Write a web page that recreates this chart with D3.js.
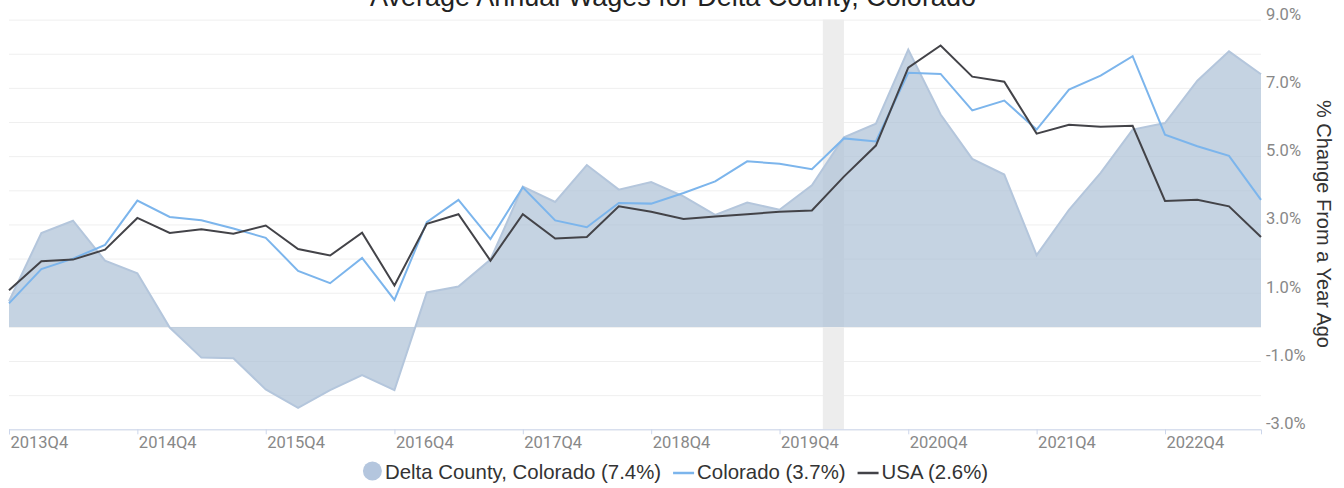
<!DOCTYPE html>
<html>
<head>
<meta charset="utf-8">
<script src="https://cdn.jsdelivr.net/npm/d3@7"></script>
<style>
body{margin:0;background:#fff;}
svg{display:block;font-family:"Liberation Sans", Arial, sans-serif;}
</style>
</head>
<body>
<div id="chart"></div>
<script>
// chart data

var quarters = ["2013Q4","2014Q1","2014Q2","2014Q3","2014Q4","2015Q1","2015Q2","2015Q3","2015Q4","2016Q1",
                "2016Q2","2016Q3","2016Q4","2017Q1","2017Q2","2017Q3","2017Q4","2018Q1","2018Q2","2018Q3",
                "2018Q4","2019Q1","2019Q2","2019Q3","2019Q4","2020Q1","2020Q2","2020Q3","2020Q4","2021Q1",
                "2021Q2","2021Q3","2021Q4","2022Q1","2022Q2","2022Q3","2022Q4","2023Q1","2023Q2","2023Q3"];

var deltaCounty = [0.75, 2.75, 3.11, 1.94, 1.57, -0.02, -0.90, -0.92, -1.83, -2.37,
                   -1.85, -1.41, -1.85, 1.01, 1.18, 1.97, 4.11, 3.66, 4.74, 4.02,
                   4.24, 3.82, 3.28, 3.64, 3.43, 4.15, 5.55, 5.95, 8.12, 6.22,
                   4.92, 4.46, 2.10, 3.43, 4.51, 5.78, 5.97, 7.21, 8.07, 7.40];

var colorado = [0.69, 1.69, 2.00, 2.40, 3.70, 3.22, 3.12, 2.88, 2.61, 1.64,
                1.28, 2.02, 0.79, 3.07, 3.72, 2.57, 4.09, 3.12, 2.92, 3.63,
                3.61, 3.92, 4.26, 4.85, 4.78, 4.62, 5.52, 5.43, 7.44, 7.41,
                6.34, 6.63, 5.78, 6.95, 7.36, 7.93, 5.63, 5.29, 5.01, 3.72];

var usa = [1.07, 1.92, 1.97, 2.26, 3.19, 2.75, 2.86, 2.73, 2.97, 2.28,
           2.09, 2.76, 1.21, 3.02, 3.30, 1.94, 3.30, 2.59, 2.63, 3.53,
           3.37, 3.16, 3.23, 3.30, 3.37, 3.41, 4.40, 5.31, 7.59, 8.24,
           7.33, 7.18, 5.66, 5.92, 5.86, 5.89, 3.69, 3.72, 3.53, 2.63];

var xTickLabels = ["2013Q4","2014Q4","2015Q4","2016Q4","2017Q4","2018Q4","2019Q4","2020Q4","2021Q4","2022Q4"];
var yGridValues = [-3,-2,-1,0,1,2,3,4,5,6,7,8,9];
var yTickValues = [-3,-1,1,3,5,7,9];
var recessions = [["2020-02-01","2020-04-01"]];
var legendLabels = ["Delta County, Colorado (7.4%)","Colorado (3.7%)","USA (2.6%)"];
var chartTitle = "Average Annual Wages for Delta County, Colorado";
var yTitle = "% Change From a Year Ago";

function parseQuarter(q){
    var yr= +q.slice(0,4), n= +q.slice(5);
    return new Date(yr,(n-1)*3,1);
}

var width=1344, height=488;
var plotLeft=9, plotRight=1261, plotTop=19.6, plotBottom=429.3;

var svg= d3.select("#chart").append("svg")
            .attr("width",width)
            .attr("height",height);

var dates= quarters.map(parseQuarter);

var x= d3.scaleTime().domain([dates[0],dates[dates.length-1]]).range([plotLeft,plotRight]);
var y= d3.scaleLinear().domain([-3,9]).range([plotBottom,plotTop]);

// gridlines
var grid= svg.append("g")
    .attr("transform","translate("+plotRight+",0)")
    .call(d3.axisLeft(y).tickValues(yGridValues).tickSize(plotRight-plotLeft).tickFormat(""));
grid.select(".domain").remove();
grid.selectAll("line").attr("stroke","#efefef");

// recession shading
svg.selectAll(".rec").data(recessions).enter().append("rect")
    .attr("x",function(d){return x(new Date(d[0]+"T00:00"));})
    .attr("width",function(d){return x(new Date(d[1]+"T00:00"))-x(new Date(d[0]+"T00:00"));})
    .attr("y",plotTop)
    .attr("height",plotBottom-plotTop)
    .attr("fill","#ededed");

// delta county area
var area= d3.area()
    .x(function(d,i){return x(dates[i]);})
    .y0(y(0))
    .y1(function(d){return y(d);});
svg.append("path")
    .datum(deltaCounty)
    .attr("d",area)
    .attr("fill","#acc0d6")
    .attr("fill-opacity",0.7);

var line= d3.line()
    .x(function(d,i){return x(dates[i]);})
    .y(function(d){return y(d);});

svg.append("path").datum(deltaCounty).attr("d",line)
    .attr("fill","none").attr("stroke","#b4c6dc").attr("stroke-width",2);

svg.append("path").datum(colorado).attr("d",line)
    .attr("fill","none").attr("stroke","#7cb5ec").attr("stroke-width",2);

svg.append("path").datum(usa).attr("d",line)
    .attr("fill","none").attr("stroke","#434348").attr("stroke-width",2);

// x axis
var xAxis= svg.append("g")
    .attr("transform","translate(0,"+plotBottom+")")
    .call(d3.axisBottom(x).tickValues(xTickLabels.map(parseQuarter))
        .tickSize(5).tickFormat(function(d,i){return xTickLabels[i];}));
xAxis.select(".domain").attr("stroke","#ccd6eb");
xAxis.selectAll("line").attr("stroke","#ccd6eb");
xAxis.selectAll("text")
    .attr("text-anchor","start")
    .attr("x",1)
    .attr("y",19)
    .attr("dy",0)
    .attr("fill","#888")
    .style("font-size","16.5px")
    .style("font-family","Roboto");

// right y axis
var yAxis= svg.append("g")
    .attr("transform","translate("+plotRight+",0)")
    .call(d3.axisRight(y).tickValues(yTickValues).tickSize(0)
        .tickFormat(function(d){return d.toFixed(1)+"%";}));
yAxis.select(".domain").remove();
yAxis.selectAll("text")
    .attr("x",5)
    .attr("dy",-0.5)
    .attr("fill","#888")
    .style("font-size","16.5px")
    .style("font-family","Roboto");

svg.append("text")
    .attr("transform","translate(1317,224) rotate(90)")
    .attr("text-anchor","middle")
    .attr("fill","#333")
    .style("font-size","20px")
    .text(yTitle);

// title
svg.append("text")
    .attr("x",673)
    .attr("y",6)
    .attr("text-anchor","middle")
    .attr("fill","#222")
    .style("font-size","27px")
    .text(chartTitle);

// legend
var legend= svg.append("g");
var symbolW=[19,21,21];
var items= legend.selectAll("g").data(legendLabels).enter().append("g");
items.append("text")
    .attr("y",479)
    .attr("fill","#333")
    .style("font-size","20.4px")
    .text(function(d){return d;});

var pos=0, starts=[];
items.each(function(d,i){
    starts.push(pos);
    var w= this.querySelector("text").getComputedTextLength();
    pos+= symbolW[i]+3+w+12;
});
var total= pos-12;
var x0= 675.5-total/2;

items.attr("transform",function(d,i){return "translate("+(x0+starts[i])+",0)";});
items.select("text").attr("x",function(d,i){return symbolW[i]+3;});

items.filter(function(d,i){return i==0;}).append("circle")
    .attr("cx",9.5).attr("cy",471).attr("r",9.5).attr("fill","#b4c6de");
items.filter(function(d,i){return i>0;}).append("line")
    .attr("x1",0).attr("x2",21).attr("y1",473).attr("y2",473)
    .attr("stroke-width",2.5)
    .attr("stroke",function(d,i){return i==0?"#7cb5ec":"#434348";});
</script>
</body>
</html>
